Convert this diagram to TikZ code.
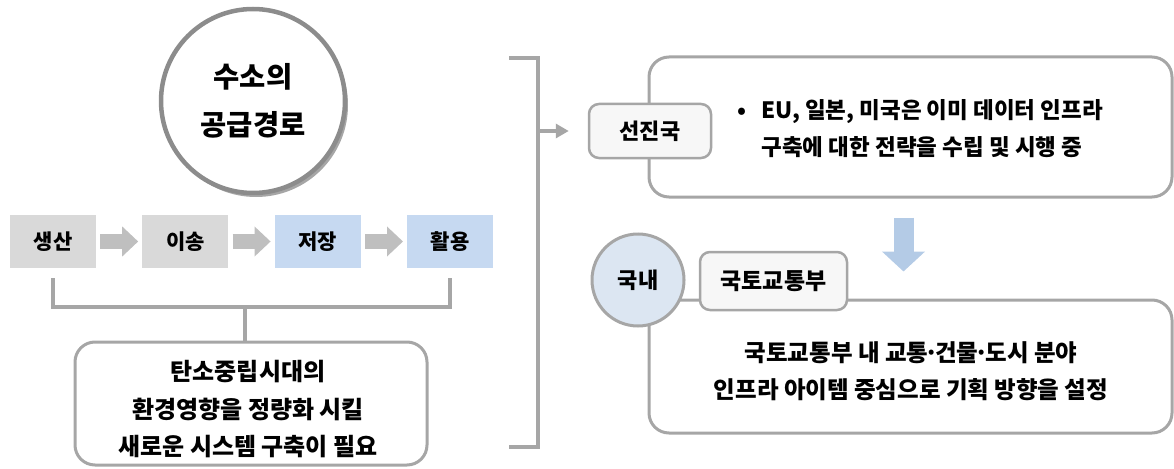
\documentclass[tikz,border=0pt]{standalone}
\usepackage{fontspec}
\setmainfont{Noto Sans CJK KR}
\usepackage{tikz}
\usetikzlibrary{shapes.geometric, calc, arrows.meta, positioning, shadows}
\usepackage{xcolor}
\definecolor{stepgray}{HTML}{D9D9D9}
\definecolor{stepblue}{HTML}{C6D9F1}
\definecolor{arrowgray}{HTML}{BFBFBF}
\definecolor{linegray}{HTML}{A6A6A6}
\definecolor{ringgray}{HTML}{8C8C8C}
\definecolor{tagfill}{HTML}{F7F7F7}
\definecolor{homeblue}{HTML}{DCE6F2}
\definecolor{downblue}{HTML}{B4CBE6}
\newcommand{\middot}{\hbox to 0.3em{\hss·\hss}}

\begin{document}
\begin{tikzpicture}[x=1pt, y=-1pt,
    stepbox/.style={minimum width=86pt, minimum height=53pt, inner sep=0pt, font=\bfseries\fontsize{21}{24}\selectfont},
    blockarrow/.style={arrowgray, line width=15pt, -{Triangle[length=16pt, width=29pt]}, shorten <=4pt, shorten >=4pt},
    bracket/.style={linegray, line width=4pt},
    roundbox/.style={draw=linegray, line width=3pt, rounded corners=20pt, fill=white, inner sep=0pt},
    tagbox/.style={draw=linegray, line width=2.5pt, rounded corners=10pt, fill=tagfill, inner sep=0pt, font=\bfseries\fontsize{22}{24}\selectfont}]

  \useasboundingbox (0,0) rectangle (1174,468);

  % supply route circle on top
  \node[circle, draw=ringgray, line width=4.5pt, fill=white, minimum size=184pt, align=center,
        font=\bfseries\fontsize{28.5}{48}\selectfont,
        drop shadow={shadow xshift=3pt, shadow yshift=-4pt, fill=black, opacity=.35}] (route) at (253,101) {수소의\\공급경로};

  % the four steps
  \node[stepbox, fill=stepgray] (prod) at (53,241.5) {생산};
  \node[stepbox, fill=stepgray, right=46pt of prod] (move) {이송};
  \node[stepbox, fill=stepblue, right=46pt of move] (store) {저장};
  \node[stepbox, fill=stepblue, right=46pt of store] (use) {활용};
  \draw[blockarrow] (prod) -- (move);
  \draw[blockarrow] (move) -- (store);
  \draw[blockarrow] (store) -- (use);

  % bracket down to the need box
  \node[roundbox, minimum width=352pt, minimum height=123pt] (need) at (251,403.5) {};
  \node[align=center, font=\bfseries\fontsize{24}{37.5}\selectfont] (needtext) at (248,409.5)
    {탄소중립시대의\\환경영향을 정량화 시킬\\새로운 시스템 구축이 필요};
  \coordinate (fork) at (245,307);
  \draw[bracket] ([yshift=-10pt]prod.south) |- (fork) -| ([yshift=-10pt]use.south);
  \draw[bracket] (fork) -- (fork |- need.north);

  % big bracket and arrow to the right side
  \draw[bracket] (509,58) -| (538,447) -- (509,447);
  \coordinate (brmid) at (538,131);

  % abroad
  \node[roundbox, minimum width=523pt, minimum height=140pt] (abroad) at (910.5,127) {};
  \node[anchor=west, align=left, font=\bfseries\fontsize{22.5}{37}\selectfont] (abroadtext) at (734,129)
    {\makebox[24pt][l]{•}EU, 일본, 미국은 이미 데이터 인프라\\\hspace*{24pt}구축에 대한 전략을 수립 및 시행 중};
  \node[tagbox, minimum width=122pt, minimum height=54pt] (advtag) at (650,131) {선진국};
  \draw[bracket, -{Triangle[length=13pt, width=14pt]}, shorten >=19pt] (brmid) -- (advtag.west);

  % domestic
  \node[roundbox, minimum width=523pt, minimum height=133pt] (dombox) at (910.5,366.5) {};
  \node[align=center, font=\bfseries\fontsize{23.5}{37}\selectfont] (domtext) at (911,371.5)
    {국토교통부 내 교통\middot 건물\middot 도시 분야\\인프라 아이템 중심으로 기획 방향을 설정};
  \node[circle, draw=linegray, line width=3pt, fill=homeblue, minimum size=92pt,
        font=\bfseries\fontsize{22}{24}\selectfont] (home) at (638,280) {국내};
  \node[tagbox, minimum width=147pt, minimum height=58pt, font=\bfseries\fontsize{23}{24}\selectfont] (ministry) at (773.5,281) {국토교통부};

  \draw[downblue, line width=20pt, -{Triangle[length=20pt, width=42pt]}, shorten <=19pt, shorten >=27pt]
    ([xshift=-7pt]abroad.south) -- ([xshift=-7pt]dombox.north);
\end{tikzpicture}
\end{document}
